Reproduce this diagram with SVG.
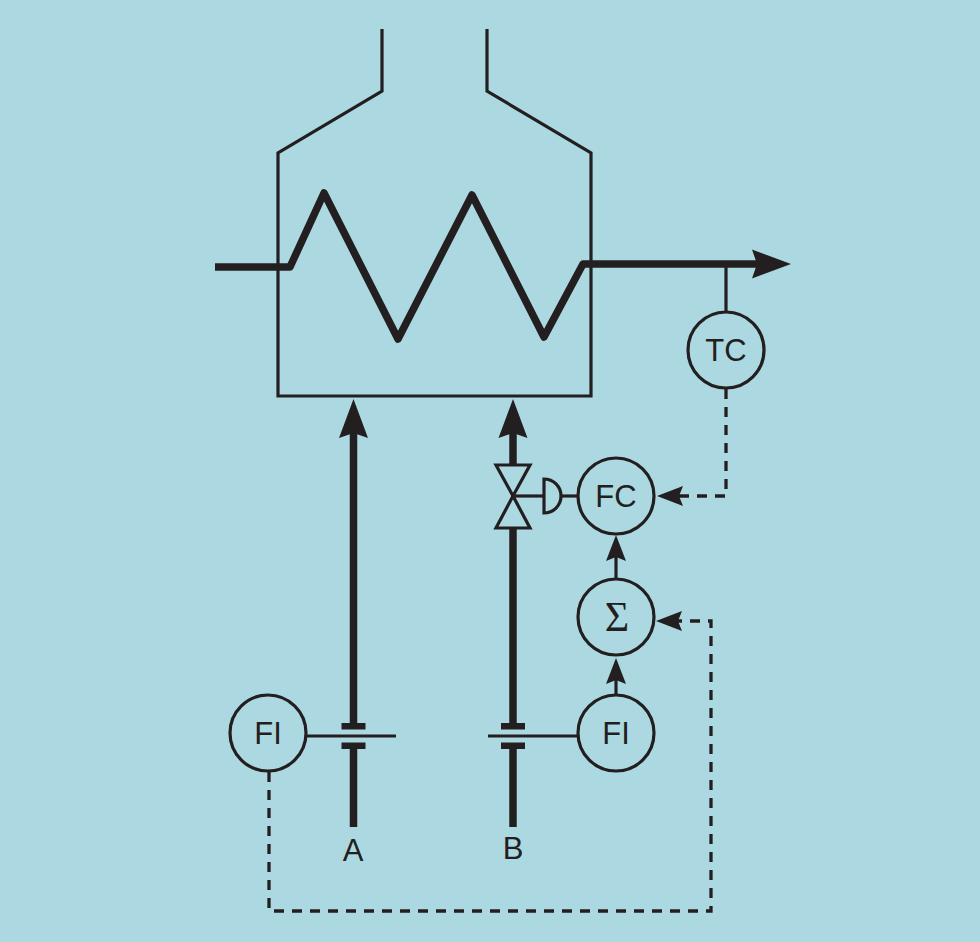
<svg xmlns="http://www.w3.org/2000/svg" width="980" height="942" viewBox="0 0 980 942">
  <style>
    .thin { fill: none; stroke: #231f20; stroke-width: 3.2; }
    .pipe { fill: none; stroke: #231f20; stroke-width: 7.5; }
    .coil { fill: none; stroke: #231f20; stroke-width: 7.5; stroke-linejoin: round; }
    .sig { fill: none; stroke: #231f20; stroke-width: 3.2; }
    .dash { fill: none; stroke: #231f20; stroke-width: 3.3; stroke-dasharray: 10 8; }
    .inst { fill: none; stroke: #231f20; stroke-width: 3.2; }
    .lbl { font-family: "Liberation Sans", Arial, sans-serif; font-size: 31px; fill: #231f20; text-anchor: middle; }
    .sigma { font-family: "Liberation Serif", "Times New Roman", serif; font-size: 42px; fill: #231f20; text-anchor: middle; }
    .bar { fill: #231f20; }
  </style>
  <defs>
    <marker id="bigArrow" markerUnits="userSpaceOnUse" viewBox="-7 -16 42 32" markerWidth="42" markerHeight="32" refX="0" refY="0" orient="auto">
      <path d="M34,0 L-5,-14.5 L0,0 L-5,14.5 Z" fill="#231f20"/>
    </marker>
    <marker id="smallArrow" markerUnits="userSpaceOnUse" viewBox="-5 -11 29 22" markerWidth="29" markerHeight="22" refX="0" refY="0" orient="auto">
      <path d="M22,0 L-4,-10 L0,0 L-4,10 Z" fill="#231f20"/>
    </marker>
  </defs>
  <rect x="0" y="0" width="980" height="942" fill="#acd9e1"/>

  <g id="furnace">
    <polyline class="thin" points="382,29 382,91 278,153 278,396 591,396 591,153 487,91 487,29"/>
  </g>

  <g id="connectors">
    <polyline class="coil" points="215,267 290,267 324,193 398,339 472,195 544,337 583,264 757,264" marker-end="url(#bigArrow)"/>
    <line class="thin" x1="726" y1="264" x2="726" y2="312"/>
    <line class="pipe" x1="353.5" y1="723" x2="353.5" y2="433" marker-end="url(#bigArrow)"/>
    <line class="pipe" x1="353.5" y1="749" x2="353.5" y2="827"/>
    <line class="pipe" x1="513" y1="465" x2="513" y2="433" marker-end="url(#bigArrow)"/>
    <line class="pipe" x1="513" y1="528" x2="513" y2="723"/>
    <line class="pipe" x1="513" y1="749" x2="513" y2="827"/>
    <line class="thin" x1="306" y1="736" x2="396" y2="736"/>
    <line class="thin" x1="488" y1="736" x2="578" y2="736"/>
    <line class="thin" x1="513" y1="496" x2="544" y2="496"/>
    <line class="thin" x1="561" y1="496" x2="578" y2="496"/>
    <line class="sig" x1="616" y1="578" x2="616" y2="557" marker-end="url(#smallArrow)"/>
    <line class="sig" x1="616" y1="695" x2="616" y2="680" marker-end="url(#smallArrow)"/>
    <polyline class="dash" points="726,389 726,496 679,496" marker-end="url(#smallArrow)"/>
    <polyline class="dash" points="269,772 269,911 711,911 711,621 678,621" marker-end="url(#smallArrow)"/>
  </g>

  <g id="orifice-A">
    <rect class="bar" x="341.5" y="723" width="24" height="6.5"/>
    <rect class="bar" x="341.5" y="742.5" width="24" height="6.5"/>
  </g>
  <g id="orifice-B">
    <rect class="bar" x="501" y="723" width="24" height="6.5"/>
    <rect class="bar" x="501" y="742.5" width="24" height="6.5"/>
  </g>

  <g id="valve">
    <polygon class="thin" points="496,465 530,465 513,496"/>
    <polygon class="thin" points="513,496 496,528 530,528"/>
    <path class="thin" d="M544,479 A17,17 0 0 1 544,513 Z"/>
  </g>

  <g id="TC">
    <circle class="inst" cx="726" cy="350" r="38"/>
    <text class="lbl" x="726" y="361">TC</text>
  </g>
  <g id="FC">
    <circle class="inst" cx="616" cy="496" r="38"/>
    <text class="lbl" x="616" y="507">FC</text>
  </g>
  <g id="SUM">
    <circle class="inst" cx="616" cy="617" r="38"/>
    <text class="sigma" x="617" y="631">Σ</text>
  </g>
  <g id="FI-A">
    <circle class="inst" cx="268" cy="733" r="38"/>
    <text class="lbl" x="268" y="744">FI</text>
  </g>
  <g id="FI-B">
    <circle class="inst" cx="616" cy="733" r="38"/>
    <text class="lbl" x="616" y="744">FI</text>
  </g>
  <g id="label-A">
    <text class="lbl" x="353" y="861">A</text>
  </g>
  <g id="label-B">
    <text class="lbl" x="513" y="859">B</text>
  </g>
</svg>
